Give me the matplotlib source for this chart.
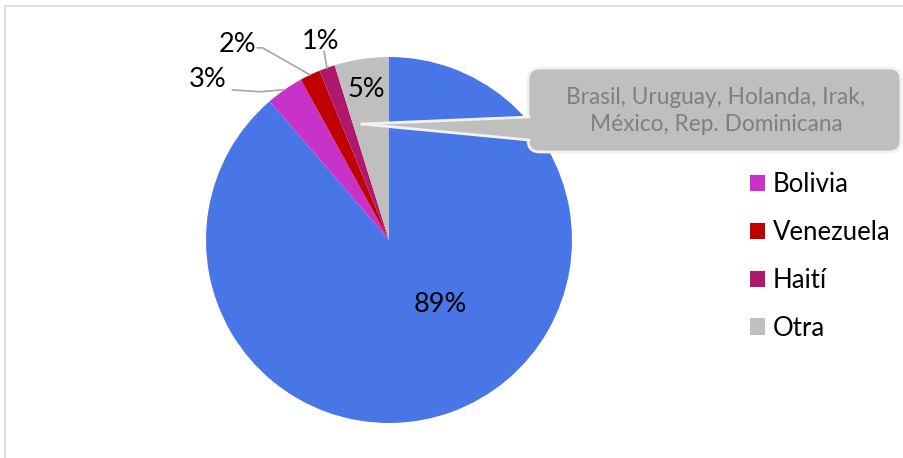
import matplotlib.pyplot as plt
import numpy as np
from matplotlib.patches import FancyBboxPatch, Polygon
from matplotlib.lines import Line2D

plt.rcParams['font.family'] = ['Lato', 'DejaVu Sans']

# Data
categories = ['Otros', 'Bolivia', 'Venezuela', 'Haití', 'Otra']
values = [88.7, 3.3, 1.8, 1.4, 4.8]
colors = ['#4876E6', '#C832C8', '#C00000', '#B0186E', '#BFBFBF']
legend_names = ['Bolivia', 'Venezuela', 'Haití', 'Otra']
otra_note = 'Brasil, Uruguay, Holanda, Irak,\nMéxico, Rep. Dominicana'

W, H = 904, 458
fig = plt.figure(figsize=(W / 100, H / 100), dpi=100)

# chart frame
fig.add_artist(Line2D([5 / W, 5 / W], [0, 1 - 6 / H], color='#d9d9d9', lw=1.2))
fig.add_artist(Line2D([5 / W, 1], [1 - 6 / H, 1 - 6 / H], color='#d9d9d9', lw=1.2))

# pie axes: center (389, 240), radius 183 px
r = 183
ax = fig.add_axes([(389 - r) / W, (H - 240 - r) / H, 2 * r / W, 2 * r / H])
ax.axis('off')

wedges, _ = ax.pie(values, colors=colors, startangle=90, counterclock=False,
                   radius=1, wedgeprops=dict(linewidth=0))
ax.set_xlim(-1, 1)
ax.set_ylim(-1, 1)

pct = ['{:.0f}%'.format(v) for v in values]


def edge_point(w, rad=1.0):
    a = np.deg2rad((w.theta1 + w.theta2) / 2)
    return rad * np.cos(a), rad * np.sin(a)


fs = 19.5
# inside labels
ax.text(0.28, -0.355, pct[0], ha='center', va='center', fontsize=fs, color='black')
ax.text(-0.125, 0.825, pct[4], ha='center', va='center', fontsize=fs, color='black')

# outside labels with leader lines
lc = '#a6a6a6'
ex, ey = edge_point(wedges[1])
ax.plot([-0.855, -0.70, ex], [0.82, 0.81, ey], color=lc, lw=1.2, clip_on=False)
ax.text(-0.99, 0.875, pct[1], ha='center', va='center', fontsize=fs, clip_on=False)

ex, ey = edge_point(wedges[2])
ax.plot([-0.72, -0.69, ex], [1.05, 1.05, ey], color=lc, lw=1.2, clip_on=False)
ax.text(-0.83, 1.07, pct[2], ha='center', va='center', fontsize=fs, clip_on=False)

ex, ey = edge_point(wedges[3])
ax.plot([-0.355, ex], [1.03, ey], color=lc, lw=1.2, clip_on=False)
ax.text(-0.375, 1.085, pct[3], ha='center', va='center', fontsize=fs, clip_on=False)

# legend
lfs = 18.5
leg = fig.legend(wedges[1:], legend_names, loc='upper left',
                 bbox_to_anchor=(750 / W, 1 - 172 / H), frameon=False,
                 fontsize=lfs, handlelength=0.6, handleheight=0.6,
                 handletextpad=0.3, labelspacing=0.89, borderpad=0,
                 borderaxespad=0)

# callout for "Otra"
ov = fig.add_axes([0, 0, 1, 1])
ov.set_xlim(0, W)
ov.set_ylim(H, 0)
ov.axis('off')
box = FancyBboxPatch((528, 68), 373, 84, boxstyle='round,pad=0,rounding_size=12',
                     fc='#BFBFBF', ec='#f2f2f2', lw=2)
ov.add_patch(box)
ov.add_patch(Polygon([(362, 124), (532, 117), (532, 140)], closed=True,
                     fc='#BFBFBF', ec='none'))
ov.plot([362, 529], [124, 117], color='#f2f2f2', lw=2)
ov.plot([362, 529], [124, 140], color='#f2f2f2', lw=2)
ov.text(716, 111, otra_note, ha='center', va='center', fontsize=16.3,
        color='#7f7f7f', linespacing=1.35)

fig.savefig('out.png', dpi=100)
